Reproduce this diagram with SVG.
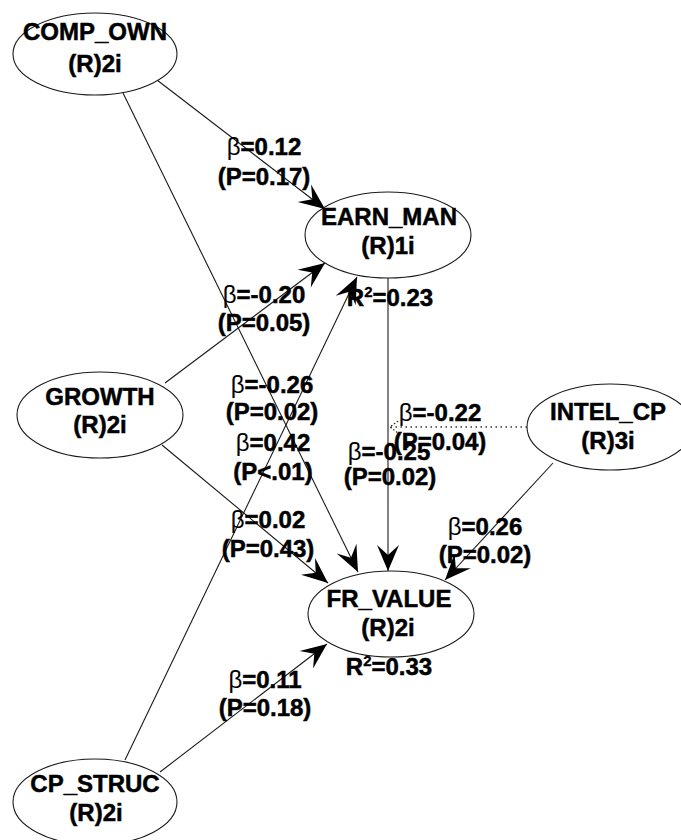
<svg xmlns="http://www.w3.org/2000/svg" width="681" height="840" viewBox="0 0 681 840">
<style>
.node ellipse{fill:#fff;stroke:#1a1a1a;stroke-width:1.1}
text{font-family:"Liberation Sans",Arial,sans-serif;font-weight:bold;font-size:24px;fill:#000;stroke:#000;stroke-width:0.5;text-anchor:middle}
.b{font-weight:normal;stroke-width:0}
.sup{font-size:15px;stroke-width:0.3}
.edge{stroke:#1a1a1a;stroke-width:1.1;fill:none;marker-end:url(#ah)}
.dot{stroke:#333;stroke-width:1.3;fill:none;stroke-dasharray:1.5 3.5}
</style>
<defs>
<marker id="ah" viewBox="-28 -14 30 28" markerWidth="30" markerHeight="28" refX="0" refY="0" orient="auto" markerUnits="userSpaceOnUse">
<path d="M0,0 L-26,-11 L-16,0 L-26,11 Z" fill="#000"/>
</marker>
</defs>
<rect width="681" height="840" fill="#fff"/>
<g id="connectors">
<line class="edge" x1="157" y1="80" x2="325" y2="209"/>
<line class="edge" x1="123" y1="93" x2="358" y2="572"/>
<line class="edge" x1="165" y1="383" x2="325" y2="263"/>
<line class="edge" x1="162" y1="445" x2="328" y2="583"/>
<line class="edge" x1="125" y1="760" x2="357" y2="277"/>
<line class="edge" x1="160" y1="772" x2="327" y2="644"/>
<line class="edge" x1="388" y1="278" x2="388" y2="571"/>
<line class="edge" x1="553" y1="463" x2="445" y2="580"/>
<line class="dot" x1="527" y1="427" x2="390" y2="427"/>
<polyline class="dot" points="398,421 390,427 398,433" style="stroke-dasharray:1.5 2"/>
</g>
<g id="COMP_OWN" class="node">
<ellipse cx="95" cy="54" rx="82" ry="41"/>
<text x="95" y="40">COMP_OWN</text>
<text x="95" y="72">(R)2i</text>
</g>
<g id="EARN_MAN" class="node">
<ellipse cx="388" cy="235" rx="83" ry="43"/>
<text x="389" y="225">EARN_MAN</text>
<text x="388" y="254">(R)1i</text>
</g>
<g id="GROWTH" class="node">
<ellipse cx="100" cy="415" rx="83" ry="43"/>
<text x="100" y="405">GROWTH</text>
<text x="100" y="433">(R)2i</text>
</g>
<g id="INTEL_CP" class="node">
<ellipse cx="610" cy="427" rx="83" ry="43"/>
<text x="608" y="420">INTEL_CP</text>
<text x="608" y="449">(R)3i</text>
</g>
<g id="FR_VALUE" class="node">
<ellipse cx="391" cy="614" rx="83" ry="43"/>
<text x="389" y="607">FR_VALUE</text>
<text x="388" y="636">(R)2i</text>
</g>
<g id="CP_STRUC" class="node">
<ellipse cx="95" cy="802" rx="82" ry="43"/>
<text x="95" y="792">CP_STRUC</text>
<text x="96" y="821">(R)2i</text>
</g>
<g id="labels">
<text x="264" y="155"><tspan class="b">β</tspan>=0.12</text>
<text x="264" y="185">(P=0.17)</text>
<text x="264" y="303"><tspan class="b">β</tspan>=-0.20</text>
<text x="264" y="331">(P=0.05)</text>
<text x="390" y="306">R<tspan class="sup" dy="-9">2</tspan><tspan dy="9">=0.23</tspan></text>
<text x="272" y="393"><tspan class="b">β</tspan>=-0.26</text>
<text x="272" y="420">(P=0.02)</text>
<text x="273" y="451"><tspan class="b">β</tspan>=0.42</text>
<text x="273" y="480">(P&lt;.01)</text>
<text x="268" y="528"><tspan class="b">β</tspan>=0.02</text>
<text x="268" y="557">(P=0.43)</text>
<text x="440" y="421"><tspan class="b">β</tspan>=-0.22</text>
<text x="440" y="450">(P=0.04)</text>
<text x="389" y="460"><tspan class="b">β</tspan>=-0.25</text>
<text x="390" y="485">(P=0.02)</text>
<text x="485" y="535"><tspan class="b">β</tspan>=0.26</text>
<text x="485" y="563">(P=0.02)</text>
<text x="265" y="688"><tspan class="b">β</tspan>=0.11</text>
<text x="265" y="716">(P=0.18)</text>
<text x="389" y="675">R<tspan class="sup" dy="-9">2</tspan><tspan dy="9">=0.33</tspan></text>
</g>
</svg>
